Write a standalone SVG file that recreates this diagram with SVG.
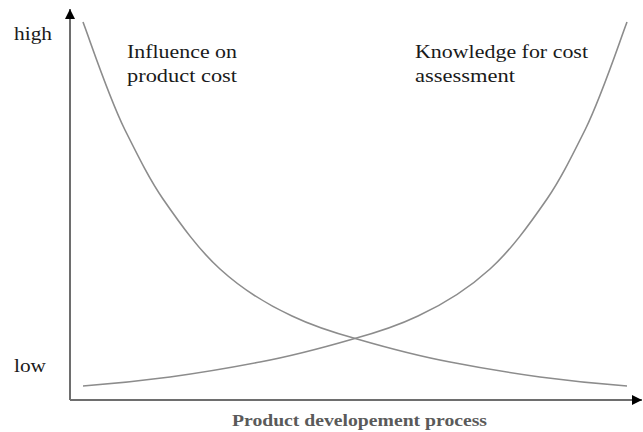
<svg xmlns="http://www.w3.org/2000/svg" xmlns:xlink="http://www.w3.org/1999/xlink" width="643" height="432" viewBox="0 0 643 432">
<style>
.lbl{font-family:"Liberation Serif","DejaVu Serif",serif;font-size:18.5px;fill:#1a1a1a}
.axis{stroke:#6e6e6e;stroke-width:2;fill:none}
.curve{stroke:#8c8c8c;stroke-width:1.6;fill:none}
.title{font-family:"Liberation Serif","DejaVu Serif",serif;font-size:16px;font-weight:bold;fill:#5a5a5a}
</style>
<defs>
<marker id="arr" viewBox="0 0 10 10" refX="10" refY="5" markerWidth="5" markerHeight="5" markerUnits="strokeWidth" orient="auto">
<path d="M0,0 L10,5 L0,10 z" fill="#000"/>
</marker>
<path id="c1" d="M83,22 C92,46 108,95 125,130 C140,160 150,180 163,199 C181,225 199,250 220,269 C243,290 266,304 292,316 C315,327 335,333 357,339 C388,348 418,356 450,362 C481,368 511,373 540,377 C570,381 600,384 627,386"/>
</defs>
<g id="connectors">
<path class="axis" d="M70,400 L70,9" marker-end="url(#arr)"/>
<path class="axis" d="M70,400 L642,400" marker-end="url(#arr)"/>
<use id="influence-curve" xlink:href="#c1" href="#c1" class="curve"/>
<use id="knowledge-curve" xlink:href="#c1" href="#c1" class="curve" transform="matrix(-1,0,0,1,710,0)"/>
</g>
<g id="label-high"><text class="lbl" x="14" y="40" textLength="38" lengthAdjust="spacingAndGlyphs">high</text></g>
<g id="label-low"><text class="lbl" x="14" y="372" textLength="32" lengthAdjust="spacingAndGlyphs">low</text></g>
<g id="label-influence"><text class="lbl" x="127" y="58" textLength="110" lengthAdjust="spacingAndGlyphs">Influence on</text><text class="lbl" x="127" y="82" textLength="110" lengthAdjust="spacingAndGlyphs">product cost</text></g>
<g id="label-knowledge"><text class="lbl" x="415" y="58" textLength="173" lengthAdjust="spacingAndGlyphs">Knowledge for cost</text><text class="lbl" x="415" y="82" textLength="100" lengthAdjust="spacingAndGlyphs">assessment</text></g>
<g id="label-x"><text class="title" x="232" y="426" textLength="255" lengthAdjust="spacingAndGlyphs">Product developement process</text></g>
</svg>
